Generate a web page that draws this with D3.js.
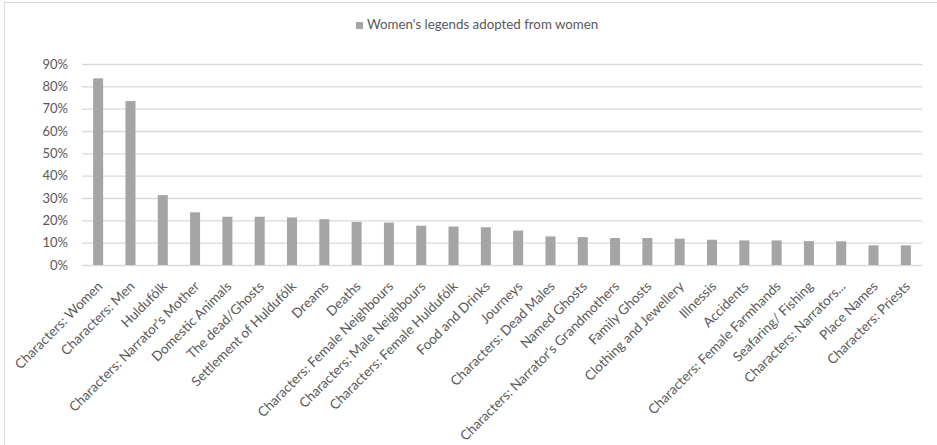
<!DOCTYPE html>
<html>
<head>
<meta charset="utf-8">
<script src="https://cdn.jsdelivr.net/npm/d3@7"></script>
<style>
  body { margin: 0; background: #fff; }
  text { font-family: Lato, "Open Sans", sans-serif; fill: #595959; }
</style>
</head>
<body>
<div id="chart-area"></div>
<script>
// Data
let categories = [
    "Characters: Women", "Characters: Men", "Huldufólk", "Characters: Narrator's Mother",
    "Domestic Animals", "The dead/Ghosts", "Settlement of Huldufólk", "Dreams", "Deaths",
    "Characters: Female Neighbours", "Characters: Male Neighbours", "Characters: Female Huldufólk",
    "Food and Drinks", "Journeys", "Characters: Dead Males", "Named Ghosts",
    "Characters: Narrator's Grandmothers", "Family Ghosts", "Clothing and Jewellery", "Illnessis",
    "Accidents", "Characters: Female Farmhands", "Seafaring/ Fishing", "Characters: Narrators...",
    "Place Names", "Characters: Priests"
];
let values = [
    0.836, 0.734, 0.313, 0.236, 0.216, 0.216, 0.213, 0.205, 0.193,
    0.190, 0.176, 0.172, 0.169, 0.154, 0.128, 0.125,
    0.121, 0.121, 0.118, 0.113, 0.110, 0.110, 0.107, 0.106,
    0.088, 0.088
];
let yTicks = [0, 0.1, 0.2, 0.3, 0.4, 0.5, 0.6, 0.7, 0.8, 0.9];
let seriesName = "Women's legends adopted from women";

let data = categories.map((c, i) => ({category: c, value: values[i]}));

// SVG drawing area
let W = 937, H = 445;
let margin = {top: 64, right: 15, bottom: 180, left: 82};
let width = W - margin.left - margin.right,
    height = H - margin.top - margin.bottom;

let root = d3.select("#chart-area").append("svg")
    .attr("width", W)
    .attr("height", H);

// chart border (cut off at right and bottom like the screenshot)
root.append("rect")
    .attr("x", 4.5).attr("y", 2.5)
    .attr("width", W + 10).attr("height", H + 10)
    .attr("fill", "none")
    .attr("stroke", "#d9d9d9");

let svg = root.append("g")
    .attr("transform", "translate(" + margin.left + "," + margin.top + ")");

// Scales
let x = d3.scaleBand()
    .domain(categories)
    .range([0, width])
    .paddingInner(0.69)
    .paddingOuter(0.345);

let y = d3.scaleLinear()
    .domain([0, 0.9])
    .range([height, 0]);

// Gridlines + y labels
let yAxis = svg.append("g")
    .attr("class", "y-axis")
    .call(d3.axisLeft(y).tickValues(yTicks).tickFormat(d3.format(".0%")).tickSize(-width).tickPadding(14));
yAxis.select(".domain").remove();
yAxis.selectAll("line").attr("stroke", "#d9d9d9").attr("stroke-width", 1.3);
yAxis.selectAll("text").style("font-size", "13px").attr("fill", "#595959");

// Bars
svg.selectAll(".bar")
    .data(data)
    .enter()
    .append("rect")
    .attr("class", "bar")
    .attr("x", d => x(d.category))
    .attr("y", d => y(d.value))
    .attr("width", x.bandwidth())
    .attr("height", d => height - y(d.value))
    .attr("fill", "#a5a5a5");

// X axis labels
let xAxis = svg.append("g")
    .attr("class", "x-axis")
    .attr("transform", `translate(0,${height})`)
    .call(d3.axisBottom(x).tickSize(0));
xAxis.select(".domain").remove();
xAxis.selectAll("text")
    .style("font-size", "13.5px")
    .attr("fill", "#595959")
    .style("text-anchor", "end")
    .attr("dx", 0).attr("dy", 0)
    .attr("transform", "translate(3,20) rotate(-45)");

// Legend
let legend = root.append("g")
    .attr("transform", "translate(356,22)");
legend.append("rect")
    .attr("width", 7).attr("height", 7)
    .attr("fill", "#a5a5a5");
legend.append("text")
    .attr("x", 11).attr("y", 7)
    .style("font-size", "13.3px")
    .text(seriesName);
</script>
</body>
</html>
